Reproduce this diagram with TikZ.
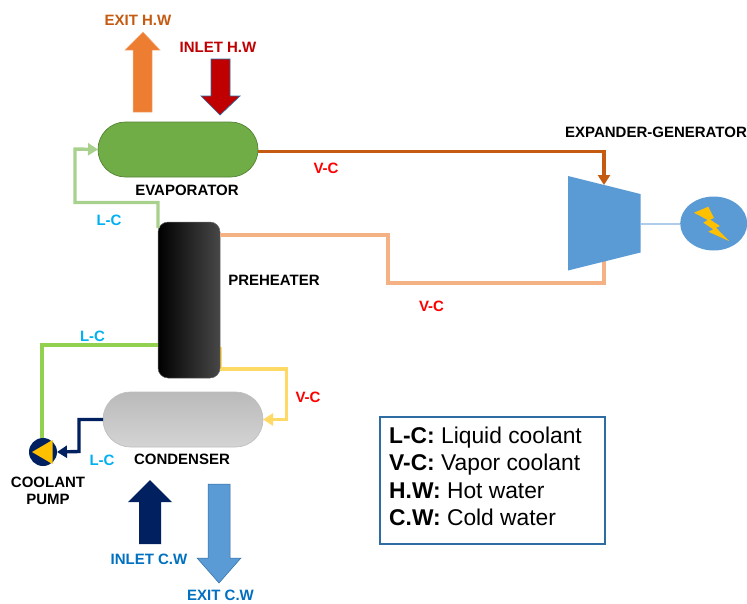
\documentclass[tikz,border=0pt]{standalone}
\usepackage{fontspec}
\setmainfont{Liberation Sans}
\usetikzlibrary{arrows.meta,calc,shapes.geometric}
\definecolor{cExitHW}{HTML}{C55A11}
\definecolor{cArrowOr}{HTML}{ED7D31}
\definecolor{cInHW}{HTML}{C00000}
\definecolor{cEvap}{HTML}{70AD47}
\definecolor{cLC}{HTML}{00B0F0}
\definecolor{cLight}{HTML}{A9D18E}
\definecolor{cPeach}{HTML}{F4B183}
\definecolor{cYel}{HTML}{FFD966}
\definecolor{cGreen}{HTML}{92D050}
\definecolor{cNavy}{HTML}{002060}
\definecolor{cBlue}{HTML}{5B9BD5}
\definecolor{cCW}{HTML}{0070C0}
\definecolor{cGold}{HTML}{FFC000}
\definecolor{cFrame}{HTML}{2E6DA4}
\tikzset{
  lab/.style={font=\fontsize{15}{17}\selectfont\bfseries,inner sep=0pt,align=center},
  pipe/.style={line width=3.4pt,line join=miter},
  tip/.style={-{Triangle[length=10pt,width=12pt]}},
  vessel/.style={minimum width=160pt,minimum height=55pt,rounded corners=27.5pt,inner sep=0pt,outer sep=0pt},
}
\begin{document}
\begin{tikzpicture}[x=1pt,y=-1pt]
\useasboundingbox (0,0) rectangle (747,603);
% block arrows
\fill[cArrowOr,draw=cArrowOr!60!white,line width=.5pt] (133,112)--(152,112)--(152,50)--(160,50)--(143,32)--(125,50)--(133,50)--cycle;
\fill[cInHW,draw=cFrame,line width=.7pt] (211,59)--(230,59)--(230,96)--(240,96)--(220,115)--(201,96)--(211,96)--cycle;
\fill[cNavy] (139,544)--(161,544)--(161,502)--(172,502)--(150,480)--(128,502)--(139,502)--cycle;
\fill[cBlue,draw=cFrame,line width=.5pt] (208,484)--(230,484)--(230,558)--(241,558)--(219,583)--(197,558)--(208,558)--cycle;
% equipment
\node[vessel,fill=cEvap,draw=cEvap!75!black,line width=.7pt] (evap) at (178,149.5) {};
\node[vessel,draw=black!25,line width=.7pt,top color=black!27,bottom color=black!17] (cond) at (183,419.5) {};
\coordinate (ex1) at (568,176);
\coordinate (ex2) at (640.5,194);
\coordinate (ex3) at (640.5,252.5);
\coordinate (ex4) at (568,270.5);
\node[ellipse,draw=none,fill=cBlue,minimum width=67pt,minimum height=54pt,inner sep=0pt,outer sep=0pt] (gen) at (713.7,223.5) {};
\node[circle,fill=cNavy,minimum size=28pt,inner sep=0pt,outer sep=0pt] (pump) at (43,452) {};
% pipes
\coordinate (expIn) at (604,185);
\coordinate (expOut) at (604,261);
\coordinate (expShaft) at (640.5,224);
\draw[cYel,pipe,tip] (220,347) -- (220,369) -- (286.5,369) -- (286.5,419.5) -- (cond.east);
\node[minimum width=62pt,minimum height=156pt,rounded corners=10pt,inner sep=0pt,outer sep=0pt,left color=black,right color=black!72,draw=black!60,line width=.5pt] (pre) at (189,300) {};
\draw[cPeach,pipe] (pre.east |- 0,235) -- (388,235) -- (388,283) -- (expOut |- 0,283) -- (expOut);
\fill[cBlue] (ex1)--(ex2)--(ex3)--(ex4)--cycle;
\draw[cBlue!50!white,line width=1.5pt] (expShaft) -- (gen.west |- expShaft);
\draw[cExitHW,pipe,tip] (evap.east |- 0,151.5) -- (expIn |- 0,151.5) -- (expIn);
\draw[cLight,pipe,tip] (158,228) -- (158,202.5) -- (75,202.5) -- (75,149) -- (evap.west);
\draw[cGreen,pipe] (pre.west |- 0,345) -- (42,345) -- (pump.north -| 42,0);
\draw[cNavy,pipe,tip] (cond.west) -- (79,419.5) -- (79,451.5) -- (pump.east);
% pump triangle, bolt
\fill[cGold] (32,452)--(52.5,440)--(52.5,464)--cycle;
\fill[cGold] (694,212.7)--(708.3,206.7)--(714,218)--(710,219.5)--(720,226)--(716,227.7)--(729,241)--(708.3,231.7)--(713.3,229.3)--(703.3,222.7)--(707.7,220)--cycle;
% labels
\node[lab,text=cExitHW] (t1) at (138,20.5) {EXIT H.W};
\node[lab,text=cInHW] (t2) at (218,47) {INLET H.W};
\node[lab] (t3) at (187,190.5) {EVAPORATOR};
\node[lab,text=cLC] (t4) at (109,220.5) {L-C};
\node[lab,text=red] (t5) at (326,168.5) {V-C};
\node[lab] (t6) at (656,132) {EXPANDER-GENERATOR};
\node[lab] (t7) at (274,280.5) {PREHEATER};
\node[lab,text=red] (t8) at (431.5,306.5) {V-C};
\node[lab,text=cLC] (t9) at (92.5,336) {L-C};
\node[lab,text=red] (t10) at (308,397) {V-C};
\node[lab,text=cLC] (t11) at (102,460) {L-C};
\node[lab] (t12) at (182,459.5) {CONDENSER};
\node[lab,font=\fontsize{15}{17.5}\selectfont\bfseries] (t13) at (48,491) {COOLANT\\PUMP};
\node[lab,text=cCW] (t14) at (149,559) {INLET C.W};
\node[lab,text=cCW] (t15) at (220.5,595.5) {EXIT C.W};
% legend
\node[draw=cFrame,line width=2pt,minimum width=225pt,minimum height=127pt,inner sep=0pt,outer sep=0pt] (legend) at (492.5,480.5) {};
\node[anchor=west,inner sep=0pt,align=left,font=\fontsize{22.8}{27.5}\selectfont] (legtext) at (389,476.5) {\textbf{L-C:} Liquid coolant\\\textbf{V-C:} Vapor coolant\\\textbf{H.W:} Hot water\\\textbf{C.W:} Cold water};
\end{tikzpicture}
\end{document}
